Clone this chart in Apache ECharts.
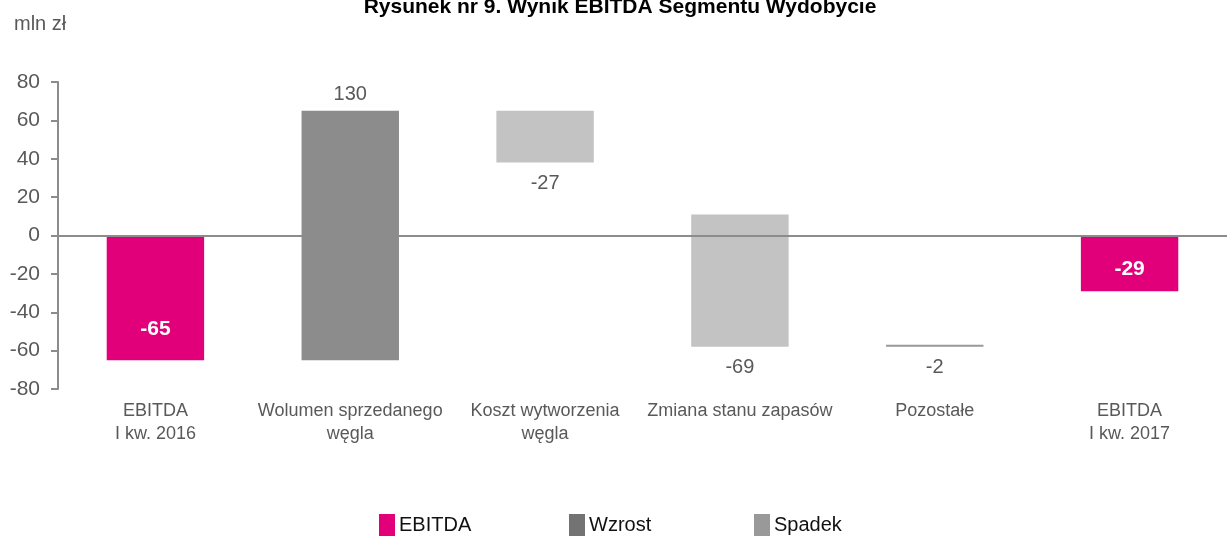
<!DOCTYPE html>
<html>
<head>
<meta charset="utf-8">
<script src="https://cdn.jsdelivr.net/npm/echarts@6/dist/echarts.min.js"></script>
<style>
	html,body{margin:0;padding:0;background:#fff;}
	#main{width:1227px;height:536px;}
</style>
</head>
<body>
<div id="main"></div>
<script type="text/javascript">
	//dane wykresu
	var categories = ['EBITDA\nI kw. 2016','Wolumen sprzedanego\nwęgla','Koszt wytworzenia\nwęgla','Zmiana stanu zapasów','Pozostałe','EBITDA\nI kw. 2017'];
	var kinds = ['EBITDA','Wzrost','Spadek','Spadek','Spadek','EBITDA'];
	var labels = [-65, 130, -27, -69, -2, -29];//etykiety słupków
	var bases = [0, -65, 38, -58, -58, 0];//dolna krawędź (niewidoczna podstawa)
	var spans = [-65, 130, 27, 69, 1, -29];//wysokość widocznej części
	var yTicks = [-80, -60, -40, -20, 0, 20, 40, 60, 80];

	var colors = {EBITDA:'#e2007a',Wzrost:'#8c8c8c',Spadek:'#c3c3c3'};
	var legendColors = {EBITDA:'#e2007a',Wzrost:'#737373',Spadek:'#999999'};
	var ebitdaOffsets = {0:31,5:6};//przesunięcie białych etykiet

	//0 zamiast '-', żeby stos się nie przerywał
	function pick(kind){
		return spans.map(function(v,i){
			if(kinds[i] !== kind)return 0;
			if(kind === 'EBITDA')return {value:v,label:{offset:[0,ebitdaOffsets[i]]}};
			if(i === 4)return {value:v,itemStyle:{color:'#999999'}};
			return v;
		});
	}
	function fmt(kind){
		return function(p){
			return kinds[p.dataIndex] === kind ? String(labels[p.dataIndex]) : '';
		};
	}

	var labelFont = {fontFamily:'Liberation Sans, Arial, sans-serif',fontSize:20,color:'#595959'};

	var myChart = echarts.init(document.getElementById('main'),null,{renderer:'canvas'});
	var option = {
		animation:false,
		textStyle:{fontFamily:'Liberation Sans, Arial, sans-serif'},
		title:[
			{text:'Rysunek nr 9. Wynik EBITDA Segmentu Wydobycie',left:620,textAlign:'center',top:-3,padding:0,
				textStyle:{fontSize:21,fontWeight:'bold',color:'#000'}},
			{text:'mln zł',left:14,top:14,padding:0,textStyle:{fontSize:20,fontWeight:'normal',color:'#595959'}}
		],
		legend:[
			{data:[{name:'EBITDA',itemStyle:{color:legendColors.EBITDA}}],left:379,top:514},
			{data:[{name:'Wzrost',itemStyle:{color:legendColors.Wzrost}}],left:569,top:514},
			{data:[{name:'Spadek',itemStyle:{color:legendColors.Spadek}}],left:754,top:514}
		].map(function(l){
			l.itemWidth = 16;l.itemHeight = 22;l.itemGap = 0;l.icon = 'rect';l.padding = 0;
			l.textStyle = {fontSize:20,color:'#111',padding:[0,0,0,-1]};
			return l;
		}),
		grid:{left:58,top:82,height:307,width:1182,containLabel:false},
		xAxis:{
			type:'category',
			data:categories,
			position:'bottom',
			axisLine:{show:false,onZero:false},
			axisTick:{show:false},
			axisLabel:{fontSize:18,color:'#595959',lineHeight:23,margin:11,interval:0},
		},
		yAxis:{
			type:'value',
			min:yTicks[0],
			max:yTicks[yTicks.length-1],
			interval:20,
			axisLine:{show:true,lineStyle:{color:'#8c8c8c',width:2}},
			axisTick:{show:true,length:7,lineStyle:{color:'#8c8c8c',width:2}},
			splitLine:{show:false},
			axisLabel:{fontSize:21,color:'#595959',margin:18}
		},
		series:[
			{
				name:'base',type:'bar',stack:'w',stackStrategy:'all',barWidth:'50%',
				itemStyle:{color:'transparent'},
				data:bases,
				silent:true,
				markLine:{
					silent:true,symbol:['none','none'],label:{show:false},
					lineStyle:{color:'#8c8c8c',width:2,type:'solid'},
					data:[{yAxis:0}]
				}
			},
			{
				name:'EBITDA',type:'bar',stack:'w',stackStrategy:'all',
				itemStyle:{color:colors.EBITDA},
				data:pick('EBITDA'),
				label:{show:true,position:'inside',fontSize:21,fontWeight:'bold',color:'#fff',formatter:fmt('EBITDA')}
			},
			{
				name:'Wzrost',type:'bar',stack:'w',stackStrategy:'all',
				itemStyle:{color:colors.Wzrost},
				data:pick('Wzrost'),
				label:Object.assign({show:true,position:'top',distance:6,formatter:fmt('Wzrost')},labelFont)
			},
			{
				name:'Spadek',type:'bar',stack:'w',stackStrategy:'all',
				itemStyle:{color:colors.Spadek},
				data:pick('Spadek'),
				label:Object.assign({show:true,position:'bottom',distance:11,formatter:fmt('Spadek')},labelFont)
			}
		]
	};
	myChart.setOption(option);
</script>
</body>
</html>
